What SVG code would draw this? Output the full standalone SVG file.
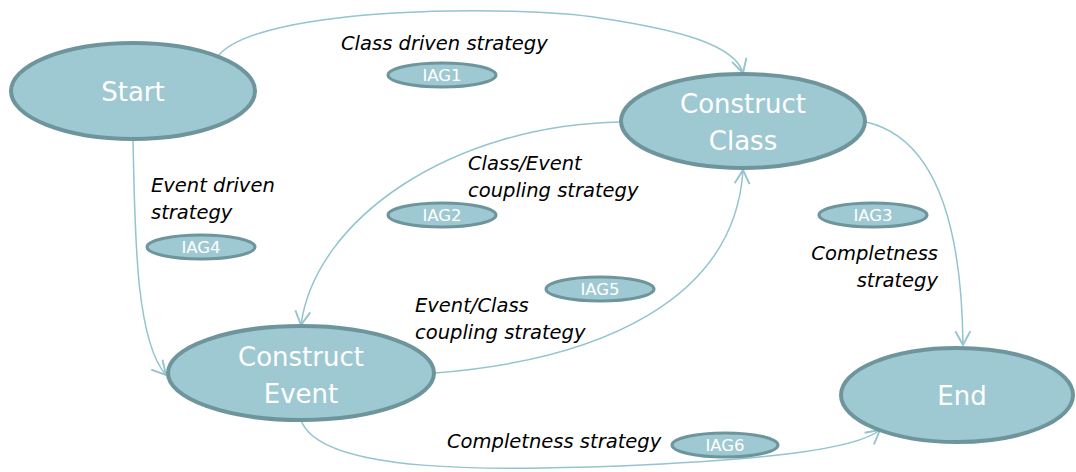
<svg xmlns="http://www.w3.org/2000/svg" width="1076" height="472" viewBox="0 0 1076 472">
<style>
.node{fill:#9fc9d2;stroke:#6f959c;stroke-width:4}
.iag{fill:#9fc9d2;stroke:#6f959c;stroke-width:3}
.nt{font-family:"DejaVu Sans",Verdana,sans-serif;font-size:26px;fill:#ffffff;text-anchor:middle}
.it{font-family:"DejaVu Sans",Verdana,sans-serif;font-size:16.5px;fill:#ffffff;text-anchor:middle}
.lb{font-family:"DejaVu Sans",Verdana,sans-serif;font-size:19.5px;font-style:italic;fill:#000000}
.edge{fill:none;stroke:#93c4cf;stroke-width:1.5;marker-end:url(#arr)}
</style>
<defs>
<marker id="arr" markerUnits="userSpaceOnUse" markerWidth="20" markerHeight="20" viewBox="-12 -8 14 16" refX="0" refY="0" orient="auto">
<path d="M-11,-6 L0,0 L-11,6" fill="none" stroke="#93c4cf" stroke-width="1.5"/>
</marker>
</defs>
<g id="connectors">
<path class="edge" d="M218,56 C260,5 520,5 600,18 C680,30 735,45 743,73"/>
<path class="edge" d="M133,139 C135,230 135,340 166,375"/>
<path class="edge" d="M621,122 C450,125 315,220 301,325"/>
<path class="edge" d="M435,373 C600,360 735,300 743,170"/>
<path class="edge" d="M866,122 C945,140 962,250 963,345"/>
<path class="edge" d="M301,420 C320,475 500,470 620,466 C760,460 855,450 880,430"/>
</g>
<g id="start"><ellipse class="node" cx="133" cy="91" rx="122" ry="48"/><text class="nt" x="133" y="101">Start</text></g>
<g id="construct-class"><ellipse class="node" cx="743" cy="121" rx="122" ry="47"/><text class="nt" x="743" y="113">Construct</text><text class="nt" x="743" y="150">Class</text></g>
<g id="construct-event"><ellipse class="node" cx="301" cy="373" rx="133" ry="47"/><text class="nt" x="301" y="366">Construct</text><text class="nt" x="301" y="403">Event</text></g>
<g id="end"><ellipse class="node" cx="957" cy="395" rx="116" ry="47"/><text class="nt" x="962" y="405">End</text></g>
<g id="iag1"><ellipse class="iag" cx="442" cy="75" rx="54" ry="12"/><text class="it" x="442" y="81">IAG1</text></g>
<g id="iag2"><ellipse class="iag" cx="442" cy="215" rx="54" ry="12"/><text class="it" x="442" y="221">IAG2</text></g>
<g id="iag3"><ellipse class="iag" cx="873" cy="215" rx="54" ry="12"/><text class="it" x="873" y="221">IAG3</text></g>
<g id="iag4"><ellipse class="iag" cx="201" cy="247" rx="54" ry="12"/><text class="it" x="201" y="253">IAG4</text></g>
<g id="iag5"><ellipse class="iag" cx="600" cy="289" rx="54" ry="12"/><text class="it" x="600" y="295">IAG5</text></g>
<g id="iag6"><ellipse class="iag" cx="725" cy="445" rx="53" ry="12"/><text class="it" x="725" y="451">IAG6</text></g>
<g id="labels">
<text class="lb" x="341" y="50">Class driven strategy</text>
<text class="lb" x="151" y="192">Event driven</text>
<text class="lb" x="151" y="219">strategy</text>
<text class="lb" x="468" y="170">Class/Event</text>
<text class="lb" x="468" y="197">coupling strategy</text>
<text class="lb" x="938" y="260" text-anchor="end">Completness</text>
<text class="lb" x="938" y="287" text-anchor="end">strategy</text>
<text class="lb" x="415" y="312">Event/Class</text>
<text class="lb" x="415" y="339">coupling strategy</text>
<text class="lb" x="447" y="448">Completness strategy</text>
</g>
</svg>
